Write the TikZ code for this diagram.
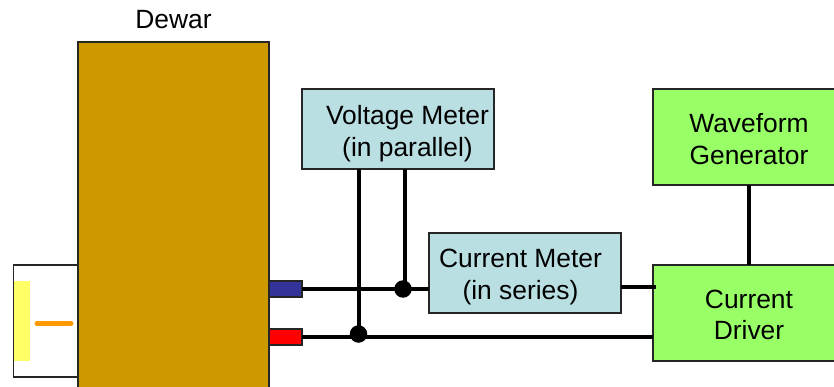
\documentclass[tikz,border=0pt]{standalone}
\usepackage{fontspec}
\setmainfont{Liberation Sans}
\definecolor{dewar}{HTML}{CC9900}
\definecolor{meter}{HTML}{B9DFE3}
\definecolor{lime}{HTML}{99FF66}
\definecolor{bluep}{HTML}{333399}
\definecolor{oran}{HTML}{FF9900}
\definecolor{yell}{HTML}{FFFF66}
\tikzset{
 box/.style={draw=black!85,line width=1.5pt,anchor=north west,inner sep=0pt,outer sep=0pt},
 meterbox/.style={box,fill=meter,minimum width=192pt,minimum height=80pt},
 drvbox/.style={box,fill=lime,minimum width=200pt,minimum height=96pt},
 port/.style={box,minimum width=33pt,minimum height=16pt},
 lab/.style={inner sep=0pt,align=center,font=\fontsize{26.4}{31.5}\selectfont},
 wire/.style={line width=4pt,black},
 dotn/.style={circle,fill=black,inner sep=0pt,minimum size=17.5pt},
}
\begin{document}
\begin{tikzpicture}[x=1pt,y=-1pt]
\clip (0,0) rectangle (834,387);
\node[box,fill=white,minimum width=65pt,minimum height=112pt] (house) at (13.5,265) {};
\node[anchor=north west,fill=yell,inner sep=0pt,minimum width=16pt,minimum height=80pt] (lamp) at (14,281) {};
\coordinate (oa) at (37,323.5);
\coordinate (ob) at (71,323.5);
\draw[oran,line width=5pt,line cap=round] (oa) -- (ob);
\node[box,fill=dewar,minimum width=191pt,minimum height=400pt] (dewar) at (78,42) {};
\node[lab] (dewlab) at (173.5,20) {Dewar};
\node[port,fill=bluep] (pb) at (269,281) {};
\node[port,fill=red] (pr) at (269,329) {};
\node[meterbox] (vm) at (302,89) {};
\node[lab] (vmt) at (407.5,133.5) {Voltage Meter\\(in parallel)};
\node[meterbox] (cm) at (429,233) {};
\node[lab] (cmt) at (520.5,277) {Current Meter\\(in series)};
\node[drvbox] (wg) at (653,89) {};
\node[lab] (wgt) at (749,139) {Waveform\\Generator};
\node[drvbox] (cd) at (653,265) {};
\node[lab] (cdt) at (749,315) {Current\\Driver};
\node[dotn] (d1) at (403,289) {};
\node[dotn] (d2) at (358.5,334) {};
\coordinate (t1) at (358.5,169);
\coordinate (t2) at (405,169);
\coordinate (t3) at (405,289);
\coordinate (c1) at (621,287);
\coordinate (c2) at (656,287);
\coordinate (w1) at (749,185);
\coordinate (w2) at (749,265);
\draw[wire] (pb.east) -- (cm.west |- pb.east);
\draw[wire] (pr.east) -- (cd.west |- pr.east);
\draw[wire] (t1) -- (d2.center);
\draw[wire] (t2) -- (t3);
\draw[wire] (c1) -- (c2);
\draw[wire] (w1) -- (w2);
\end{tikzpicture}
\end{document}
